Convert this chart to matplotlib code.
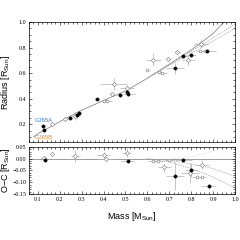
from matplotlib import pyplot as plt
from matplotlib.ticker import MultipleLocator
import numpy as np

plt.rcParams['mathtext.fontset'] = 'custom'
plt.rcParams['mathtext.rm'] = 'Liberation Sans'

# --- top panel: mass-radius data ---
fill_m = [0.125, 0.13, 0.249, 0.279, 0.287, 0.37, 0.476, 0.507, 0.514, 0.727, 0.765, 0.80, 0.874]
fill_r = [0.185, 0.158, 0.245, 0.27, 0.284, 0.396, 0.43, 0.453, 0.433, 0.637, 0.735, 0.745, 0.775]
fill_xe = [0, 0, 0.01, 0.02, 0.01, 0.01, 0.01, 0.01, 0.03, 0.04, 0.02, 0.02, 0.04]
fill_ye = [0, 0, 0.005, 0.03, 0.01, 0.005, 0.005, 0.005, 0.01, 0.04, 0.01, 0.01, 0.01]

open_m = [0.165, 0.226, 0.27, 0.439, 0.446, 0.507, 0.628, 0.696, 0.737, 0.787, 0.845]
open_r = [0.205, 0.237, 0.265, 0.433, 0.515, 0.485, 0.705, 0.71, 0.765, 0.70, 0.83]
open_xe = [0, 0, 0.02, 0.01, 0.06, 0.03, 0.035, 0.01, 0.01, 0.03, 0.03]
open_ye = [0, 0, 0.03, 0.005, 0.045, 0.02, 0.05, 0.01, 0.01, 0.035, 0.03]

circ_m = [0.40, 0.418, 0.60, 0.651, 0.668, 0.84, 0.863]
circ_r = [0.38, 0.38, 0.625, 0.61, 0.605, 0.77, 0.77]
circ_xe = [0.02, 0.02, 0.01, 0.02, 0.02, 0.02, 0.02]

# model curves (top)
mod_m = [0.08, 0.1, 0.2, 0.3, 0.4, 0.5, 0.6, 0.7, 0.8, 0.9, 0.95]
mod_r = [0.10, 0.125, 0.22, 0.31, 0.385, 0.46, 0.56, 0.67, 0.78, 0.91, 1.0]
dot_m = [0.70, 0.80, 0.90, 0.925]
dot_r = [0.67, 0.79, 0.94, 1.0]
dash1_m = [0.6, 0.7, 0.8, 0.9, 1.0]
dash1_r = [0.56, 0.665, 0.77, 0.875, 0.985]
dash2_m = [0.6, 0.7, 0.8, 0.9, 1.0]
dash2_r = [0.56, 0.66, 0.755, 0.85, 0.95]

# --- bottom panel: residuals ---
bfill_m = [0.131, 0.51, 0.765, 0.727, 0.80, 0.88]
bfill_oc = [-0.004, -0.01, -0.005, -0.074, -0.047, -0.118]
bfill_xe = [0, 0.03, 0.04, 0.04, 0.03, 0.035]
bfill_ye = [0, 0.005, 0.005, 0.06, 0.03, 0.012]

bopen_m = [0.129, 0.163, 0.272, 0.40, 0.41, 0.505, 0.677, 0.795, 0.85]
bopen_oc = [0.004, 0.019, 0.012, 0.015, 0.0, 0.026, -0.037, -0.063, -0.025]
bopen_xe = [0, 0, 0.02, 0.03, 0.04, 0.02, 0.03, 0.04, 0.03]
bopen_ye = [0, 0, 0.025, 0.012, 0.01, 0.02, 0.02, 0.04, 0.02]

bcirc_m = [0.625, 0.65, 0.70, 0.825, 0.85]
bcirc_oc = [-0.008, -0.012, -0.005, -0.08, -0.08]

bdot_m = [0.72, 0.80, 0.88, 0.95]
bdot_oc = [0.0, 0.008, 0.027, 0.05]
bdash1_m = [0.6, 0.7, 0.8, 0.9, 1.0]
bdash1_oc = [0.0, -0.008, -0.022, -0.042, -0.075]
bdash2_m = [0.6, 0.7, 0.8, 0.9, 1.0]
bdash2_oc = [0.0, -0.015, -0.042, -0.078, -0.125]

gray = '#8c8c8c'
errc = '#b0b0b0'

fig = plt.figure(figsize=(2.4, 2.4), dpi=100)
ax1 = fig.add_axes([0.121, 0.408, 0.858, 0.500])
ax2 = fig.add_axes([0.121, 0.192, 0.858, 0.196])


def draw_points(ax, fm, fy, fxe, fye, om, oy, oxe, oye, cm, cy, cxe):
    ax.errorbar(om, oy, xerr=oxe, yerr=oye, fmt='none', ecolor=errc, elinewidth=0.5, zorder=2)
    ax.errorbar(fm, fy, xerr=fxe, yerr=fye, fmt='none', ecolor=errc, elinewidth=0.5, zorder=2)
    ax.errorbar(cm, cy, xerr=cxe, fmt='none', ecolor=errc, elinewidth=0.5, zorder=2)
    ax.plot(om, oy, ls='none', marker='D', markersize=2.2, mfc='white', mec=gray, mew=0.5, zorder=3)
    ax.plot(cm, cy, ls='none', marker='o', markersize=2.0, mfc='white', mec=gray, mew=0.5, zorder=3)
    ax.plot(fm, fy, ls='none', marker='o', markersize=2.4, mfc='black', mec='black', mew=0.3, zorder=4)


ax1.plot(mod_m, mod_r, color=gray, lw=0.6, zorder=1)
ax1.plot(dot_m, dot_r, color='#c8c8c8', lw=0.5, ls=':', zorder=1)
ax1.plot(dash1_m, dash1_r, color='#a0a0a0', lw=0.5, ls=(0, (2, 1.5)), zorder=1)
ax1.plot(dash2_m, dash2_r, color='#a0a0a0', lw=0.5, ls=(0, (2, 1.5)), zorder=1)
draw_points(ax1, fill_m, fill_r, fill_xe, fill_ye, open_m, open_r, open_xe, open_ye,
            circ_m, circ_r, circ_xe)
ax1.text(0.085, 0.22, 'GJ65A', color='#3f7fd0', fontsize=4.3, family='Liberation Sans')
ax1.text(0.085, 0.083, 'GJ65B', color='#e8873a', fontsize=4.3, family='Liberation Sans')

ax2.axhline(0, color=gray, lw=0.6, zorder=1)
ax2.plot(bdot_m, bdot_oc, color='#c8c8c8', lw=0.5, ls=':', zorder=1)
ax2.plot(bdash1_m, bdash1_oc, color='#a0a0a0', lw=0.5, ls=(0, (2, 1.5)), zorder=1)
ax2.plot(bdash2_m, bdash2_oc, color='#a0a0a0', lw=0.5, ls=(0, (2, 1.5)), zorder=1)
draw_points(ax2, bfill_m, bfill_oc, bfill_xe, bfill_ye, bopen_m, bopen_oc, bopen_xe, bopen_ye,
            bcirc_m, bcirc_oc, [0.02] * len(bcirc_m))

for ax in (ax1, ax2):
    ax.set_xlim(0.06, 1.0)
    ax.xaxis.set_major_locator(MultipleLocator(0.1))
    ax.xaxis.set_minor_locator(MultipleLocator(0.02))
    ax.tick_params(which='both', direction='in', top=True, right=True, width=0.4,
                   labelsize=4.3, pad=2)
    ax.tick_params(which='major', length=2.5)
    ax.tick_params(which='minor', length=1.3)
    for s in ax.spines.values():
        s.set_linewidth(0.5)

ax1.set_ylim(0.06, 1.0)
ax1.yaxis.set_minor_locator(MultipleLocator(0.05))
ax1.tick_params(labelbottom=False)
ax1.set_yticks([0.2, 0.4, 0.6, 0.8, 1.0])
ax1.set_yticklabels(['0.2', '0.4', '0.6', '0.8', '1.0'], family='Liberation Serif')

ax2.set_ylim(-0.15, 0.05)
ax2.yaxis.set_minor_locator(MultipleLocator(0.01))
ax2.set_yticks([-0.15, -0.10, -0.05, 0.0, 0.05])
ax2.set_yticklabels(['\u22120.15', '\u22120.10', '\u22120.05', '0.00', '0.05'], family='Liberation Serif')
ax2.set_xticks(np.arange(0.1, 1.01, 0.1))
ax2.set_xticklabels(['0.1', '0.2', '0.3', '0.4', '0.5', '0.6', '0.7', '0.8', '0.9', '1.0'],
                    family='Liberation Serif')

ax1.set_ylabel('Radius [R$_{\\rm Sun}$]', fontsize=6.5, family='Liberation Sans')
ax2.set_ylabel('O\u2212C [R$_{\\rm Sun}$]', fontsize=6.5, family='Liberation Sans')
ax1.yaxis.set_label_coords(-0.085, 0.5)
ax2.yaxis.set_label_coords(-0.085, 0.5)
ax2.set_xlabel('Mass [M$_{\\rm Sun}$]', fontsize=6.5, family='Liberation Sans', labelpad=6)

fig.savefig('out.png', dpi=100)
